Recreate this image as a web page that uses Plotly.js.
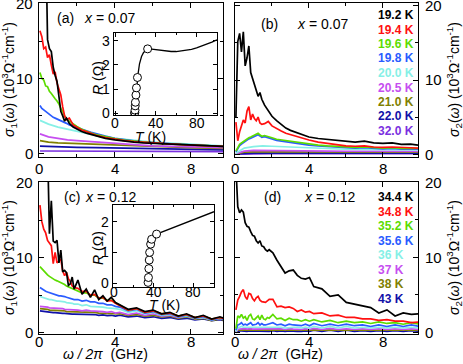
<!DOCTYPE html>
<html>
<head>
<meta charset="utf-8">
<script src="https://cdn.plot.ly/plotly-3.0.1.min.js"></script>
<style>
  body { margin: 0; background: #fff; }
  #chart { width: 463px; height: 364px; }
</style>
</head>
<body>
<div id="chart"></div>
<script>
// frequency grids, GHz
let freqAB = [0.05,0.15,0.25,0.35,0.45,0.55,0.65,0.75,0.85,0.95,1.05,1.15,1.25,1.35,1.45,1.6,1.8,2.0,2.25,2.5,2.75,3.0,3.5,4.0,4.5,5.0,5.5,6.0,6.5,7.0,7.5,8.0,8.5,9.0,9.5,9.9];
let freqCoarse = [0.05,0.5,1.0,1.5,2.0,3.0,4.0,5.0,6.0,7.0,8.0,9.0,9.9];
let freqCD = [0.05,0.15,0.25,0.35,0.45,0.55,0.65,0.75,0.85,0.95,1.05,1.15,1.25,1.35,1.45,1.55,1.65,1.75,1.85,
  2.05,2.27,2.49,2.71,2.93,3.15,3.37,3.59,3.81,4.03,
  4.26,4.7,5.14,5.58,6.02,6.46,6.9,7.34,7.78,8.22,8.66,9.1,9.54,9.98];

// (a) sigma1, x = 0.07
let s1a_192 = [30,30,30,30,15.2,14.0,13.6,11.5,10.4,9.6,7.6,5.6,5.0,4.3,4.7,4.0,3.5,3.2,2.9,2.7,2.5,2.3,2.0,1.8,1.6,1.5,1.4,1.35,1.3,1.2,1.15,1.1,1.05,1.0,0.95,0.9];
let s1a_194 = [16.4,15.6,14.0,14.2,12.8,13.2,11.8,10.6,10.9,9.4,8.6,7.8,6.2,5.0,4.5,4.7,3.8,3.5,3.1,2.9,2.6,2.4,2.1,1.85,1.7,1.55,1.45,1.4,1.3,1.25,1.15,1.1,1.05,1.0,0.95,0.9];
let s1a_196 = [10.8,10.0,9.8,9.0,8.9,8.3,8.0,7.6,7.3,7.0,6.6,6.0,5.6,5.0,4.6,4.3,4.0,3.6,3.2,2.9,2.7,2.5,2.2,1.95,1.75,1.6,1.5,1.4,1.3,1.25,1.2,1.1,1.05,1.0,0.95,0.9];
let s1a_198 = [6.4,6.0,5.8,5.6,5.3,5.1,5.0,4.8,4.7,4.6,4.4,4.3,4.2,4.1,4.0,3.8,3.6,3.4,3.2,3.0,2.8,2.6,2.3,2.0,1.8,1.65,1.5,1.4,1.3,1.25,1.2,1.1,1.05,1.0,0.95,0.9];
let s1a_200 = [4.4,3.9,3.5,3.2,2.9,2.4,2.0,1.7,1.5,1.35,1.2,1.05,0.95];
let s1a_205 = [2.6,2.2,2.0,1.8,1.7,1.5,1.3,1.15,1.0,0.95,0.85,0.8,0.75];
let s1a_210 = [1.7,1.5,1.4,1.35,1.3,1.15,1.05,0.95,0.85,0.8,0.75,0.7,0.65];
let s1a_220 = [0.95,0.9,0.85,0.8,0.8,0.75,0.7,0.65,0.6,0.55,0.5,0.5,0.45];
let s1a_320 = [0.3,0.3,0.3,0.3,0.3,0.28,0.27,0.26,0.25,0.25,0.24,0.23,0.22];

// (b) sigma2, x = 0.07
let s2a_192 = [5.0,15.2,16.3,13.8,16.5,11.9,13.0,14.6,11.0,10.2,9.6,8.9,7.8,8.3,7.4,6.6,5.8,5.1,4.5,4.0,3.5,3.2,2.8,2.3,2.1,1.95,1.8,1.7,1.6,1.75,1.5,1.45,1.5,1.3,1.35,1.2];
let s2a_194 = [4.3,1.8,3.0,3.8,4.6,4.2,5.8,6.4,4.6,5.4,4.8,4.5,5.0,4.2,4.0,4.1,4.4,3.8,3.4,3.1,2.8,2.6,2.2,1.9,1.6,1.4,1.2,1.1,1.05,1.1,0.95,0.9,0.95,0.85,0.85,0.8];
let s2a_196 = [0.4,0.9,1.3,1.5,1.7,1.9,2.1,2.2,2.3,2.4,2.5,2.6,2.8,2.6,2.4,2.5,2.3,2.2,2.0,1.9,1.8,1.7,1.5,1.3,1.2,1.1,1.0,0.95,0.9,0.95,0.85,0.8,0.85,0.75,0.8,0.75];
let s2a_198 = [0.3,0.8,1.15,1.35,1.55,1.75,1.95,2.05,2.15,2.25,2.35,2.45,2.6,2.45,2.25,2.35,2.15,2.05,1.85,1.75,1.65,1.55,1.35,1.2,1.1,1.0,0.9,0.85,0.8,0.85,0.75,0.7,0.75,0.65,0.7,0.65];
let s2a_200 = [0.1,0.8,1.0,1.1,1.05,0.95,0.8,0.7,0.65,0.62,0.6,0.58,0.55];
let s2a_205 = [0.05,0.4,0.5,0.5,0.5,0.45,0.42,0.4,0.38,0.37,0.36,0.35,0.35];
let s2a_210 = [0.02,0.25,0.3,0.32,0.32,0.3,0.3,0.28,0.27,0.27,0.26,0.26,0.25];
let s2a_220 = [0.01,0.1,0.12,0.13,0.14,0.14,0.14,0.13,0.13,0.13,0.13,0.12,0.12];
let s2a_320 = [0,0.03,0.04,0.04,0.04,0.04,0.04,0.04,0.04,0.04,0.04,0.04,0.04];

// (c) sigma1, x = 0.12
let s1c_344 = [30,30,30,30,25,13.2,17.6,12.2,12.0,12.3,9.3,11.0,8.1,8.3,8.0,6.3,6.5,7.4,5.8,7.0,5.1,5.8,4.7,5.7,4.4,4.9,4.2,4.7,4.0,3.7,3.1,3.3,2.8,3.0,2.5,2.7,2.2,2.5,2.0,2.3,1.8,2.1,1.7];
let s1c_348 = [17.0,14.8,13.8,13.3,12.3,12.0,11.6,9.2,10.7,9.3,9.5,9.8,8.2,7.6,8.0,7.2,6.8,6.2,6.0,5.9,5.5,5.5,5.0,5.1,4.6,4.7,4.2,4.3,3.9,3.6,3.0,3.2,2.7,2.9,2.5,2.6,2.2,2.4,2.0,2.2,1.8,2.0,1.7];
let s1c_352 = [8.8,8.5,8.2,7.9,7.7,7.5,7.3,7.2,7.0,6.9,6.8,6.7,6.6,6.4,6.2,6.1,6.0,5.8,5.7,5.6,5.3,5.3,5.0,5.0,4.6,4.6,4.3,4.3,4.0,3.6,3.0,3.2,2.7,2.9,2.5,2.6,2.2,2.4,2.0,2.2,1.8,2.0,1.7];
let s1c_356 = [6.0,5.8,5.6,5.5,5.4,5.3,5.2,5.1,5.0,5.0,4.9,4.9,4.9,4.8,4.7,4.6,4.6,4.5,4.4,4.4,4.2,4.3,4.1,4.1,3.9,3.9,3.7,3.7,3.5,3.4,2.9,3.1,2.6,2.8,2.4,2.5,2.1,2.3,1.9,2.1,1.7,1.9,1.6];
let s1c_36 = [4.8,4.7,4.6,4.5,4.5,4.4,4.4,4.3,4.3,4.2,4.2,4.2,4.1,4.1,4.0,4.0,3.9,3.9,3.8,3.8,3.6,3.7,3.5,3.5,3.4,3.4,3.3,3.3,3.2,3.1,2.7,2.9,2.5,2.7,2.3,2.4,2.1,2.2,1.9,2.0,1.7,1.9,1.6];
let s1c_37 = [3.5,3.5,3.4,3.4,3.4,3.3,3.3,3.3,3.3,3.2,3.2,3.2,3.2,3.1,3.1,3.1,3.1,3.0,3.0,3.0,2.9,3.0,2.9,2.9,2.8,2.8,2.7,2.8,2.6,2.7,2.4,2.6,2.3,2.5,2.2,2.3,2.0,2.2,1.9,2.0,1.7,1.9,1.6];
let s1c_38 = [3.2,3.2,3.1,3.1,3.1,3.0,3.0,3.0,3.0,2.9,2.9,2.9,2.9,2.9,2.8,2.8,2.8,2.8,2.8,2.8,2.7,2.7,2.7,2.7,2.6,2.6,2.5,2.6,2.5,2.5,2.3,2.4,2.2,2.3,2.1,2.2,1.9,2.1,1.8,1.9,1.6,1.8,1.5];
let s1c_43 = [2.9,2.85,2.8,2.8,2.75,2.7,2.7,2.65,2.65,2.6,2.6,2.6,2.55,2.55,2.5,2.5,2.5,2.45,2.45,2.45,2.4,2.4,2.35,2.4,2.3,2.35,2.25,2.3,2.2,2.3,2.1,2.2,2.0,2.1,1.9,2.0,1.8,1.9,1.7,1.8,1.6,1.7,1.5];

// (d) sigma2, x = 0.12
let s2c_344 = [22,16.7,15.9,16.3,16.0,14.6,14.1,14.0,13.4,12.9,12.8,12.2,11.9,12.2,11.5,11.4,11.0,10.8,11.0,10.6,9.6,8.8,7.9,8.2,8.3,7.6,7.2,7.1,7.3,6.1,5.8,4.8,5.0,4.0,3.8,3.5,3.3,2.6,3.0,2.2,2.6,2.4,2.5];
let s2c_348 = [3.0,4.3,4.8,5.4,5.7,4.8,4.4,5.2,5.1,4.5,4.2,4.6,4.8,4.3,4.1,4.0,4.0,4.2,4.4,4.4,3.4,3.5,3.3,3.4,3.2,2.8,3.0,2.7,2.8,2.5,2.6,2.2,2.3,2.0,2.0,1.8,1.8,1.6,1.7,1.5,1.5,1.3,1.4];
let s2c_352 = [0.5,2.2,2.0,2.4,1.9,2.1,1.6,2.2,2.4,1.8,1.7,2.0,2.2,1.7,2.3,1.8,1.7,2.0,1.9,2.4,1.8,1.9,1.6,1.9,1.7,1.7,1.5,1.7,1.5,1.7,1.4,1.6,1.3,1.5,1.3,1.4,1.2,1.4,1.2,1.3,1.1,1.3,1.1];
let s2c_356 = [0.3,1.0,1.1,1.3,1.0,1.1,1.0,1.2,1.3,1.0,1.0,1.1,1.3,1.0,1.2,1.0,1.0,1.1,1.1,1.3,1.0,1.1,0.9,1.1,1.0,1.0,0.9,1.1,0.9,1.2,0.9,1.1,0.9,1.1,0.9,1.0,0.8,1.0,0.8,1.0,0.8,1.0,0.8];
let s2c_36 = [0.1,0.6,0.7,0.8,0.7,0.7,0.7,0.8,0.8,0.7,0.7,0.7,0.8,0.7,0.8,0.7,0.7,0.7,0.7,0.8,0.7,0.7,0.6,0.7,0.7,0.7,0.6,0.7,0.6,0.8,0.6,0.8,0.6,0.8,0.6,0.7,0.6,0.7,0.6,0.7,0.6,0.7,0.6];
let s2c_37 = [0.05,0.4,0.45,0.5,0.45,0.5,0.45,0.5,0.5,0.45,0.45,0.5,0.5,0.45,0.5,0.45,0.45,0.5,0.45,0.5,0.45,0.5,0.4,0.5,0.45,0.45,0.4,0.5,0.4,0.55,0.4,0.55,0.4,0.5,0.4,0.5,0.4,0.5,0.4,0.5,0.4,0.5,0.4];
let s2c_38 = [0.03,0.3,0.35,0.35,0.3,0.35,0.3,0.35,0.35,0.3,0.3,0.35,0.35,0.3,0.35,0.3,0.3,0.35,0.3,0.35,0.3,0.35,0.3,0.35,0.3,0.3,0.3,0.35,0.3,0.4,0.3,0.4,0.3,0.4,0.3,0.35,0.3,0.35,0.3,0.35,0.3,0.35,0.3];
let s2c_43 = [0.01,0.15,0.2,0.2,0.15,0.2,0.15,0.2,0.2,0.15,0.15,0.2,0.2,0.15,0.2,0.15,0.15,0.2,0.15,0.25,0.15,0.2,0.15,0.2,0.15,0.15,0.15,0.2,0.15,0.3,0.15,0.3,0.15,0.3,0.15,0.25,0.15,0.25,0.15,0.25,0.15,0.25,0.15];

// resistance insets
let rA_T = [18.5,19.5,20.5,21.5,22.5,24,26,28,30,32,36,40,45,50,55,60,65,70,75,80,85,90,95,100];
let rA_R = [0,0.12,0.6,1.2,1.6,2.05,2.35,2.52,2.6,2.66,2.66,2.64,2.6,2.57,2.56,2.56,2.58,2.61,2.65,2.71,2.78,2.86,2.95,3.05];
let rA_Tpts = [19.2,19.4,19.6,19.8,20.0,20.5,21.0,22.0,32.0];
let rA_Rpts = [0,0.02,0.12,0.3,0.45,0.75,1.05,1.48,2.67];
let rC_T = [34,34.5,35,35.5,36,37,38,40,43,50,60,70,80,90,101];
let rC_R = [0,0.1,0.4,0.7,1.0,1.27,1.43,1.52,1.6,1.69,1.82,1.95,2.07,2.2,2.33];
let rC_Tpts = [34.4,34.8,35.2,35.6,36,37,38,43];
let rC_Rpts = [0.02,0.18,0.47,0.75,1.0,1.27,1.43,1.6];

// tick labels
let sigmaTicks = [0, 10, 20];
let freqTicks = [0, 4, 8];
let rTicksA = [0, 1, 2, 3];
let rTicksC = [0, 1, 2];
let tTicks = [0, 40, 80];

let tempsA = ['19.2 K','19.4 K','19.6 K','19.8 K','20.0 K','20.5 K','21.0 K','22.0 K','32.0 K'];
let tempsC = ['34.4 K','34.8 K','35.2 K','35.6 K','36 K','37 K','38 K','43 K'];
let colorsA = ['#000000','#ff1010','#5cdc00','#2a5cff','#86f0e6','#c64ef0','#808000','#1010a8','#7a30e0'];
let colorsC = ['#000000','#ff1010','#5cdc00','#2a5cff','#86f0e6','#c64ef0','#808000','#1010a8'];

let seriesA = [[freqAB,s1a_192],[freqAB,s1a_194],[freqAB,s1a_196],[freqAB,s1a_198],[freqCoarse,s1a_200],[freqCoarse,s1a_205],[freqCoarse,s1a_210],[freqCoarse,s1a_220],[freqCoarse,s1a_320]];
let seriesB = [[freqAB,s2a_192],[freqAB,s2a_194],[freqAB,s2a_196],[freqAB,s2a_198],[freqCoarse,s2a_200],[freqCoarse,s2a_205],[freqCoarse,s2a_210],[freqCoarse,s2a_220],[freqCoarse,s2a_320]];
let seriesC = [s1c_344,s1c_348,s1c_352,s1c_356,s1c_36,s1c_37,s1c_38,s1c_43].map(v => [freqCD, v]);
let seriesD = [s2c_344,s2c_348,s2c_352,s2c_356,s2c_36,s2c_37,s2c_38,s2c_43].map(v => [freqCD, v]);

const W = 463, H = 364;
const px = v => v / W;
const py = v => 1 - v / H;
const FONT = 'Liberation Sans, Arial, Helvetica, sans-serif';

let traces = [];
function addPanel(series, colors, xa, ya) {
  // draw coldest (black) last so it sits on top
  for (let i = series.length - 1; i >= 0; i--) {
    traces.push({
      x: series[i][0], y: series[i][1], xaxis: xa, yaxis: ya,
      type: 'scatter', mode: 'lines', hoverinfo: 'skip',
      line: {color: colors[i], width: 1.7}
    });
  }
}
addPanel(seriesA, colorsA, 'x', 'y');
addPanel(seriesB, colorsA, 'x2', 'y2');
addPanel(seriesC, colorsC, 'x3', 'y3');
addPanel(seriesD, colorsC, 'x4', 'y4');

function addInset(T, R, Tp, Rp, xa, ya) {
  traces.push({x: T, y: R, xaxis: xa, yaxis: ya, type: 'scatter', mode: 'lines',
    line: {color: '#000', width: 1.3}, hoverinfo: 'skip'});
  traces.push({x: Tp, y: Rp, xaxis: xa, yaxis: ya, type: 'scatter', mode: 'markers',
    marker: {symbol: 'circle', size: 8, color: '#fff', line: {color: '#000', width: 1}},
    hoverinfo: 'skip'});
}
addInset(rA_T, rA_R, rA_Tpts, rA_Rpts, 'x5', 'y5');
addInset(rC_T, rC_R, rC_Tpts, rC_Rpts, 'x6', 'y6');

// axes only draw frame + ticks; the numbers are annotations placed on each axis' scale
let frame = {
  showline: true, linecolor: '#000', linewidth: 1, mirror: 'ticks',
  ticks: 'inside', ticklen: 5, tickcolor: '#000', tickwidth: 1,
  showgrid: false, zeroline: false, fixedrange: true, showticklabels: false
};
function xMain(dom, range, anchor) {
  return Object.assign({}, frame, {domain: dom, range: range, anchor: anchor,
    tick0: 0, dtick: 4, minor: {dtick: 2, ticks: 'inside', ticklen: 3, tickcolor: '#000'}});
}
function yMain(dom, range, anchor, side) {
  return Object.assign({}, frame, {domain: dom, range: range, anchor: anchor, side: side,
    tick0: 0, dtick: 10, minor: {dtick: 5, ticks: 'inside', ticklen: 3, tickcolor: '#000'}});
}
function xInset(dom, range, anchor) {
  return Object.assign({}, frame, {domain: dom, range: range, anchor: anchor, ticklen: 4,
    tick0: 0, dtick: 40, minor: {dtick: 20, ticks: 'inside', ticklen: 2, tickcolor: '#000'}});
}
function yInset(dom, range, anchor) {
  return Object.assign({}, frame, {domain: dom, range: range, anchor: anchor, ticklen: 4,
    tick0: 0, dtick: 1});
}

function note(text, x, y, size, extra) {
  return Object.assign({xref: 'paper', yref: 'paper', x: px(x), y: py(y), text: text,
    showarrow: false, xanchor: 'left', yanchor: 'middle',
    font: {size: size, color: '#000', family: FONT}}, extra || {});
}

let sig1 = '<i>σ</i><sub>1</sub>(<i>ω</i>) (10<sup>3</sup>Ω<sup>-1</sup>cm<sup>-1</sup>)';
let sig2 = '<i>σ</i><sub>2</sub>(<i>ω</i>) (10<sup>3</sup>Ω<sup>-1</sup>cm<sup>-1</sup>)';
let annotations = [
  note('(a)', 55, 18, 14), note('<i>x</i> = 0.07', 82, 18, 14),
  note('(b)', 259, 24, 14), note('<i>x</i> = 0.07', 295, 24, 14),
  note('(c)', 62, 197, 14), note('<i>x</i> = 0.12', 83, 197, 14),
  note('(d)', 262, 197, 14), note('<i>x</i> = 0.12', 302, 197, 14),
  note(sig1, 9, 80, 14, {xanchor: 'center', textangle: -90}),
  note(sig2, 454, 80, 14, {xanchor: 'center', textangle: -90}),
  note(sig1, 9, 258, 14, {xanchor: 'center', textangle: -90}),
  note(sig2, 454, 258, 14, {xanchor: 'center', textangle: -90}),
  note('<i>ω / 2π</i>  (GHz)', 105, 364, 14, {xanchor: 'center', yanchor: 'bottom'}),
  note('<i>ω / 2π</i>  (GHz)', 280, 364, 14, {xanchor: 'center', yanchor: 'bottom'}),
  note('<i>R</i> (Ω)', 98, 78, 14, {xanchor: 'center', textangle: -90}),
  note('<i>T</i> (K)', 150, 137, 14, {xanchor: 'center'}),
  note('<i>R</i> (Ω)', 98, 248, 14, {xanchor: 'center', textangle: -90}),
  note('<i>T</i> (K)', 164, 305, 14, {xanchor: 'center'})
];
tempsA.forEach((t, i) => annotations.push(note('<b>' + t + '</b>', 376, 15 + 14.5 * i, 12, {font: {size: 12, color: colorsA[i], family: FONT}})));
tempsC.forEach((t, i) => annotations.push(note('<b>' + t + '</b>', 376, 197 + 14.5 * i, 12, {font: {size: 12, color: colorsC[i], family: FONT}})));

function yLabels(vals, xpx, yref, anchor, size) {
  vals.forEach(v => annotations.push({xref: 'paper', x: px(xpx), yref: yref, y: v, text: String(v),
    showarrow: false, xanchor: anchor, yanchor: 'middle', font: {size: size, color: '#000', family: FONT}}));
}
function xLabels(vals, xref, ypx, size) {
  vals.forEach(v => annotations.push({xref: xref, x: v, yref: 'paper', y: py(ypx), text: String(v),
    showarrow: false, xanchor: 'center', yanchor: 'middle', font: {size: size, color: '#000', family: FONT}}));
}
yLabels(sigmaTicks, 35, 'y', 'right', 15);
yLabels(sigmaTicks, 423, 'y2', 'left', 15);
yLabels(sigmaTicks, 35, 'y3', 'right', 15);
yLabels(sigmaTicks, 423, 'y4', 'left', 15);
xLabels(freqTicks, 'x', 168, 15);
xLabels(freqTicks, 'x2', 168, 15);
xLabels(freqTicks, 'x3', 341, 15);
xLabels(freqTicks, 'x4', 341, 15);
yLabels(rTicksA, 112, 'y5', 'right', 14);
yLabels(rTicksC, 111, 'y6', 'right', 14);
xLabels(tTicks, 'x5', 123, 14);
xLabels(tTicks, 'x6', 292, 14);

let layout = {
  width: W, height: H,
  margin: {l: 0, r: 0, t: 0, b: 0},
  paper_bgcolor: '#fff', plot_bgcolor: '#fff',
  showlegend: false,
  font: {family: FONT, color: '#000'},
  xaxis: xMain([px(39), px(223)], [0, 9.7], 'y'),
  yaxis: yMain([py(157), py(3)], [-0.5, 20.1], 'x', 'left'),
  xaxis2: xMain([px(235), px(418)], [0, 9.9], 'y2'),
  yaxis2: yMain([py(157), py(3)], [-0.4, 20.4], 'x2', 'right'),
  xaxis3: xMain([px(39), px(223)], [0, 9.7], 'y3'),
  yaxis3: yMain([py(334), py(182)], [-0.2, 20.1], 'x3', 'left'),
  xaxis4: xMain([px(235), px(418)], [0, 9.9], 'y4'),
  yaxis4: yMain([py(334), py(182)], [-0.2, 20.0], 'x4', 'right'),
  xaxis5: xInset([px(114), px(217)], [-1, 100], 'y5'),
  yaxis5: yInset([py(115), py(33)], [-0.08, 3.33], 'x5'),
  xaxis6: xInset([px(113), px(214)], [-1, 101], 'y6'),
  yaxis6: yInset([py(287), py(205)], [-0.13, 2.55], 'x6'),
  annotations: annotations
};

Plotly.newPlot('chart', traces, layout, {staticPlot: true, displayModeBar: false});
</script>
</body>
</html>
